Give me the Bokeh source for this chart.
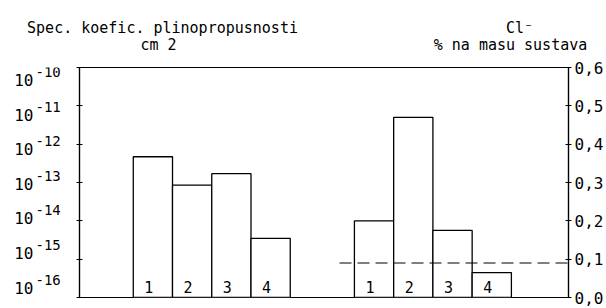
from bokeh.plotting import figure
from bokeh.layouts import column, row
from bokeh.models import Range1d, LinearAxis, LinearScale, FixedTicker, LabelSet, ColumnDataSource
from bokeh.core.properties import value
from bokeh.embed import file_html
from bokeh.resources import INLINE

# ---- data ----
bar_labels = ["1", "2", "3", "4"]
perm_values = [4.7e-13, 8.5e-14, 1.7e-13, 3.5e-15]      # Spec. koefic. plinopropusnosti, cm2
cl_values = [0.20, 0.47, 0.175, 0.065]                   # Cl-, % na masu sustava
cl_limit = 0.09                                          # dashed reference level
perm_ticks = [1e-16, 1e-15, 1e-14, 1e-13, 1e-12, 1e-11, 1e-10]
perm_exponents = ["-16", "-15", "-14", "-13", "-12", "-11", "-10"]
cl_ticks = [0.0, 0.1, 0.2, 0.3, 0.4, 0.5, 0.6]
cl_tick_labels = ["0,0", "0,1", "0,2", "0,3", "0,4", "0,5", "0,6"]
left_title = ["Spec. koefic. plinopropusnosti", "cm 2"]
right_title = ["Cl⁻", "% na masu sustava"]

# ---- layout constants (pixels) ----
W, H = 606, 308
TITLE_H = 53
LEFT_W = 64
BORDER_L, BORDER_R, BORDER_T, BORDER_B = 15, 36, 14, 11
FRAME_H = H - TITLE_H - BORDER_T - BORDER_B
DECADES = 6
PX_PER_DEC = FRAME_H / DECADES

X_START, X_END = -1.37, 11.09
LEFT_GROUP = 0.0
RIGHT_GROUP = 5.635
left_x = [LEFT_GROUP + i + 0.5 for i in range(len(bar_labels))]
right_x = [RIGHT_GROUP + i + 0.5 for i in range(len(bar_labels))]

FONT = "DejaVu Sans Mono"

def bare(fig):
    fig.grid.visible = False
    fig.outline_line_color = None
    fig.background_fill_color = "white"
    fig.border_fill_color = "white"
    return fig

# ---- main chart ----
yr = Range1d(perm_ticks[0], perm_ticks[-1])
p = figure(width=W - LEFT_W, height=H - TITLE_H, y_axis_type="log", title=None,
           x_range=Range1d(X_START, X_END), y_range=yr,
           output_backend="svg", toolbar_location=None, x_axis_location=None,
           min_border_left=BORDER_L, min_border_right=BORDER_R,
           min_border_top=BORDER_T, min_border_bottom=BORDER_B)
bare(p)
p.outline_line_color = "black"
p.outline_line_width = 1.2

ya = p.yaxis[0]
ya.ticker = FixedTicker(ticks=perm_ticks)
ya.major_label_overrides = {t: " " for t in perm_ticks}
ya.major_label_text_font_size = "2px"
ya.major_label_standoff = 0
ya.major_tick_in = 3
ya.major_tick_out = 3
ya.minor_tick_line_color = None
ya.axis_line_color = "black"
ya.axis_line_width = 1.2

p.extra_y_ranges = {"cl": Range1d(cl_ticks[0], cl_ticks[-1])}
p.extra_y_scales = {"cl": LinearScale()}
ra = LinearAxis(y_range_name="cl", ticker=FixedTicker(ticks=cl_ticks),
                major_label_overrides=dict(zip(cl_ticks, cl_tick_labels)))
ra.major_tick_in = 3
ra.major_tick_out = 3
ra.minor_tick_line_color = None
ra.major_label_standoff = 3
ra.major_label_text_font = FONT
ra.major_label_text_font_size = "16px"
ra.major_label_text_color = "black"
ra.axis_line_width = 1.2
p.add_layout(ra, "right")

p.vbar(x=left_x, top=perm_values, bottom=perm_ticks[0], width=1.0,
       fill_color="white", line_color="black", line_width=1.3)
p.vbar(x=right_x, top=cl_values, bottom=cl_ticks[0], width=1.0, y_range_name="cl",
       fill_color="white", line_color="black", line_width=1.3)

p.line(x=[RIGHT_GROUP - 0.38, X_END], y=[cl_limit, cl_limit], y_range_name="cl",
       line_color="black", line_width=1.2, line_dash="12 6")

for xs, ys, rn in ((left_x, perm_ticks[0], "default"), (right_x, cl_ticks[0], "cl")):
    p.add_layout(LabelSet(x="x", y="y", text="t", y_range_name=rn,
                          source=ColumnDataSource(dict(x=xs, y=[ys] * len(xs), t=bar_labels)),
                          text_align="center", text_baseline="alphabetic",
                          x_offset=-4, y_offset=5, text_font=value(FONT),
                          text_font_size="15px", text_color="black"))

# ---- left tick-label panel (10 with superscript exponent) ----
pad_t = BORDER_T / PX_PER_DEC
pad_b = BORDER_B / PX_PER_DEC
lf = figure(width=LEFT_W, height=H - TITLE_H, y_axis_type="log", title=None,
            x_range=Range1d(0, LEFT_W),
            y_range=Range1d(perm_ticks[0] / 10 ** pad_b, perm_ticks[-1] * 10 ** pad_t),
            output_backend="svg", toolbar_location=None,
            x_axis_location=None, y_axis_location=None, min_border=0)
bare(lf)
n = len(perm_ticks)
lf.text(x=[33] * n, y=perm_ticks, text=["10"] * n, text_align="right",
        text_baseline="middle", text_font=value(FONT), text_font_size="16px",
        text_color="black")
lf.text(x=[35] * n, y=perm_ticks, text=perm_exponents, text_align="left",
        text_baseline="middle", y_offset=-8, text_font=value(FONT),
        text_font_size="14px", text_color="black")

# ---- title panel ----
tf = figure(width=W, height=TITLE_H, x_range=Range1d(0, W), y_range=Range1d(0, TITLE_H),
            title=None, output_backend="svg", toolbar_location=None,
            x_axis_location=None, y_axis_location=None, min_border=0)
bare(tf)
tf.text(x=[162, 158, 519, 510], y=[26, 9, 26, 9],
        text=[left_title[0], left_title[1], right_title[0], right_title[1]],
        text_align="center", text_baseline="alphabetic", text_font=value(FONT),
        text_font_size="15px", text_color="black")

layout = column(tf, row(lf, p, spacing=0), spacing=0)
open("out.html", "w").write(file_html(layout, INLINE))
